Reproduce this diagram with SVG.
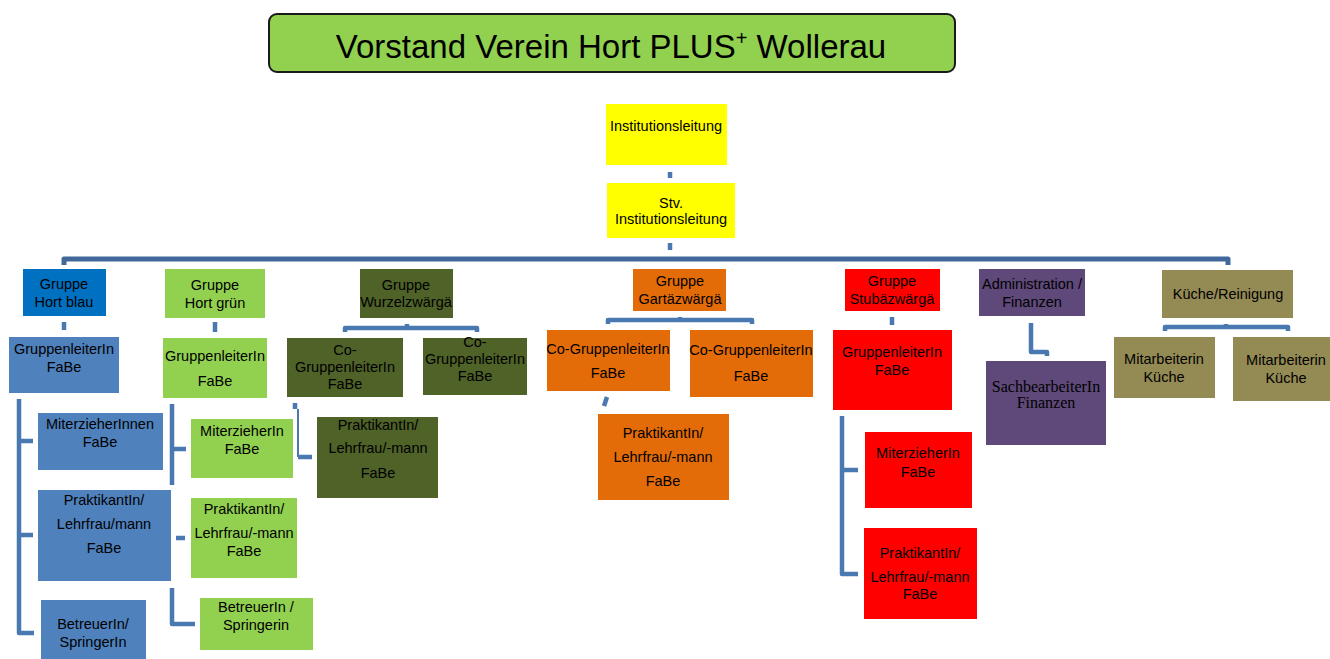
<svg xmlns="http://www.w3.org/2000/svg" width="1330" height="659" viewBox="0 0 1330 659">
<style>
text{font-family:"Liberation Sans",Arial,sans-serif;font-size:14.5px;fill:#000;text-anchor:middle}
.t{font-size:33px}
.s{font-family:"Liberation Serif","Times New Roman",serif;font-size:16px}
.c{fill:none;stroke:#4A78B0;stroke-width:4.5;stroke-linejoin:round;stroke-linecap:butt}
.m{stroke:#41689A;stroke-width:5}
.thin{stroke-width:2}
.yel{fill:#FFFF00}.blu{fill:#0070C0}.lb{fill:#4F81BD}.gr{fill:#92D050}.ol{fill:#4F6228}
.or{fill:#E36C09}.rd{fill:#FF0000}.pu{fill:#5F497A}.kh{fill:#948A54}
</style>
<g id="title">
<rect x="269" y="14" width="686" height="58" rx="8" fill="#92D050" stroke="#1a1a1a" stroke-width="2"/>
<text class="t" x="611" y="58">Vorstand Verein Hort PLUS<tspan font-size="20" dy="-13">+</tspan><tspan dy="13"> Wollerau</tspan></text>
</g>
<g id="connectors">
<path class="c" d="M670 172V178M670 243V250"/>
<path class="c m" d="M64 265V259H1228V265"/>
<path class="c" d="M64 322V330M215 322V332M892 317V325"/>
<path class="c" d="M345 332V328H477V332M407 324V328"/>
<path class="c" d="M608 324V320H752V324M680 317V320"/>
<path class="c" d="M1165 331V327H1288V331M1226 324V327"/>
<path class="c" d="M1031 323V352H1047V356"/>
<path class="c" d="M19 399V633H34M19 441H33M19 535H33"/>
<path class="c" d="M172 404V485M172 449H186M176 538H185M172 588V624H195"/>
<path class="c" d="M295 403V409"/>
<path class="c thin" d="M298 409V457"/>
<path class="c" d="M298 457H312"/>
<path class="c" d="M607 397L604 406"/>
<path class="c" d="M842 416V574H858M842 470H858"/>
</g>
<g id="n-institutionsleitung"><rect class="yel" x="606" y="104" width="121" height="61"/><text x="666" y="131">Institutionsleitung</text></g>
<g id="n-stv"><rect class="yel" x="607" y="183" width="128" height="55"/><text x="671" y="208">Stv.</text><text x="671" y="224">Institutionsleitung</text></g>

<g id="n-hort-blau"><rect class="blu" x="23" y="269" width="83" height="47"/><text x="64" y="289">Gruppe</text><text x="64" y="307">Hort blau</text></g>
<g id="n-hort-gruen"><rect class="gr" x="165" y="269" width="100" height="49"/><text x="215" y="290">Gruppe</text><text x="215" y="308">Hort grün</text></g>
<g id="n-wurzel"><rect class="ol" x="360" y="269" width="93" height="49"/><text x="406" y="290">Gruppe</text><text x="406" y="307">Wurzelzwärgä</text></g>
<g id="n-gartae"><rect class="or" x="633" y="269" width="93" height="42"/><text x="680" y="286">Gruppe</text><text x="680" y="304">Gartäzwärgä</text></g>
<g id="n-stubae"><rect class="rd" x="845" y="269" width="95" height="42"/><text x="892" y="286">Gruppe</text><text x="892" y="304">Stubäzwärgä</text></g>
<g id="n-admin"><rect class="pu" x="979" y="269" width="106" height="47"/><text x="1032" y="289">Administration /</text><text x="1032" y="307">Finanzen</text></g>
<g id="n-kueche"><rect class="kh" x="1162" y="270" width="131" height="48"/><text x="1228" y="299">Küche/Reinigung</text></g>

<g id="n-blau-leiter"><rect class="lb" x="9" y="337" width="110" height="56"/><text x="64" y="354">GruppenleiterIn</text><text x="64" y="372">FaBe</text></g>
<g id="n-gruen-leiter"><rect class="gr" x="163" y="338" width="104" height="60"/><text x="215" y="361">GruppenleiterIn</text><text x="215" y="386">FaBe</text></g>
<g id="n-wurzel-co1"><rect class="ol" x="287" y="338" width="116" height="59"/><text x="345" y="355">Co-</text><text x="345" y="372">GruppenleiterIn</text><text x="345" y="389">FaBe</text></g>
<g id="n-wurzel-co2"><rect class="ol" x="423" y="338" width="104" height="57"/><text x="475" y="347">Co-</text><text x="475" y="364">GruppenleiterIn</text><text x="475" y="381">FaBe</text></g>
<g id="n-gartae-co1"><rect class="or" x="547" y="330" width="123" height="61"/><text x="608" y="354">Co-GruppenleiterIn</text><text x="608" y="378">FaBe</text></g>
<g id="n-gartae-co2"><rect class="or" x="690" y="330" width="123" height="67"/><text x="751" y="355">Co-GruppenleiterIn</text><text x="751" y="381">FaBe</text></g>
<g id="n-stubae-leiter"><rect class="rd" x="833" y="330" width="119" height="80"/><text x="892" y="357">GruppenleiterIn</text><text x="892" y="375">FaBe</text></g>
<g id="n-sachbearbeiter"><rect class="pu" x="986" y="361" width="120" height="84"/><text class="s" x="1046" y="392">SachbearbeiterIn</text><text class="s" x="1046" y="408">Finanzen</text></g>
<g id="n-mitarb1"><rect class="kh" x="1114" y="337" width="101" height="61"/><text x="1164" y="364">Mitarbeiterin</text><text x="1164" y="382">Küche</text></g>
<g id="n-mitarb2"><rect class="kh" x="1233" y="337" width="97" height="64"/><text x="1286" y="365">Mitarbeiterin</text><text x="1286" y="383">Küche</text></g>

<g id="n-blau-miterzieher"><rect class="lb" x="38" y="413" width="125" height="57"/><text x="100" y="429">MiterzieherInnen</text><text x="100" y="447">FaBe</text></g>
<g id="n-blau-praktikant"><rect class="lb" x="38" y="490" width="133" height="91"/><text x="104" y="505">PraktikantIn/</text><text x="104" y="529">Lehrfrau/mann</text><text x="104" y="553">FaBe</text></g>
<g id="n-blau-betreuer"><rect class="lb" x="41" y="600" width="105" height="59"/><text x="93" y="629">BetreuerIn/</text><text x="93" y="647">SpringerIn</text></g>

<g id="n-gruen-miterzieher"><rect class="gr" x="191" y="419" width="102" height="59"/><text x="242" y="436">MiterzieherIn</text><text x="242" y="454">FaBe</text></g>
<g id="n-gruen-praktikant"><rect class="gr" x="191" y="498" width="106" height="80"/><text x="244" y="514">PraktikantIn/</text><text x="244" y="538">Lehrfrau/-mann</text><text x="244" y="556">FaBe</text></g>
<g id="n-gruen-betreuer"><rect class="gr" x="200" y="598" width="113" height="52"/><text x="256" y="612">BetreuerIn /</text><text x="256" y="630">Springerin</text></g>

<g id="n-wurzel-praktikant"><rect class="ol" x="317" y="417" width="121" height="81"/><text x="378" y="430">PraktikantIn/</text><text x="378" y="453">Lehrfrau/-mann</text><text x="378" y="478">FaBe</text></g>
<g id="n-gartae-praktikant"><rect class="or" x="598" y="414" width="131" height="86"/><text x="663" y="438">PraktikantIn/</text><text x="663" y="462">Lehrfrau/-mann</text><text x="663" y="486">FaBe</text></g>

<g id="n-stubae-miterzieher"><rect class="rd" x="865" y="432" width="107" height="76"/><text x="918" y="458">MiterzieherIn</text><text x="918" y="477">FaBe</text></g>
<g id="n-stubae-praktikant"><rect class="rd" x="864" y="528" width="113" height="91"/><text x="920" y="558">PraktikantIn/</text><text x="920" y="582">Lehrfrau/-mann</text><text x="920" y="599">FaBe</text></g>
</svg>
